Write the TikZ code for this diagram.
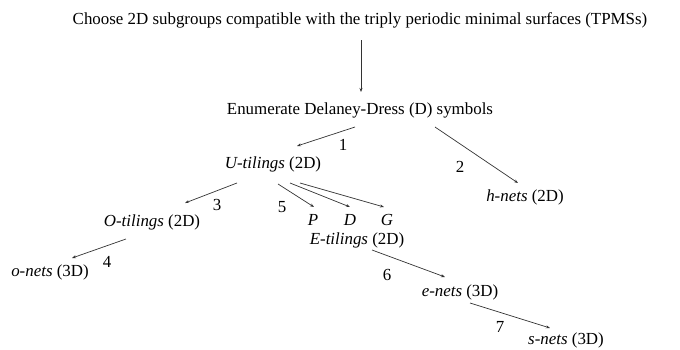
\documentclass[tikz,border=0pt]{standalone}
\usepackage{fontspec}
\setmainfont{Liberation Serif}
\usetikzlibrary{arrows.meta,calc}
\tikzset{
	txt/.style={inner sep=0pt, font=\fontsize{16.9}{18}\selectfont},
	num/.style={inner sep=0pt, font=\fontsize{16.9}{18}\selectfont},
	fl/.style={draw=black!80, line width=0.7pt, -{Stealth[length=4pt,width=3pt]}}
}
\begin{document}
\begin{tikzpicture}[x=1pt, y=-1pt]
	\useasboundingbox (0,0) rectangle (680,349);
	% les noeuds
	\node[txt] (tpms) at (360,20) {Choose 2D subgroups compatible with the triply periodic minimal surfaces (TPMSs)};
	\node[txt] (ds) at (360,110) {Enumerate Delaney-Dress (D) symbols};
	\node[txt] (utl) at (273,164) {\emph{U-tilings} (2D)};
	\node[txt] (hnt) at (525,197) {\emph{h-nets} (2D)};
	\node[txt] (otl) at (152,222) {\emph{O-tilings} (2D)};
	\node[txt] (P) at (313,220) {\emph{P}};
	\node[txt] (D) at (350,220) {\emph{D}};
	\node[txt] (G) at (387,220) {\emph{G}};
	\node[txt] (etl) at (357,240) {\emph{E-tilings} (2D)};
	\node[txt] (ont) at (50,272) {\emph{o-nets} (3D)};
	\node[txt] (ent) at (460,292) {\emph{e-nets} (3D)};
	\node[txt] (snt) at (566,340) {\emph{s-nets} (3D)};
	% les fleches
	\draw[fl] ($(tpms)+(1,20)$) -- ($(ds)+(1,-18)$);
	\draw[fl] ($(ds)+(-5,17)$) -- ($(utl)+(24,-18)$);
	\draw[fl] ($(ds)+(75,17)$) -- ($(hnt)+(-7,-14)$);
	\draw[fl] ($(utl)+(-36,19)$) -- ($(otl)+(33,-19)$);
	\draw[fl] ($(utl)+(5,20)$) -- ($(P)+(1,-13)$);
	\draw[fl] ($(utl)+(17,19)$) -- ($(D)+(0,-13)$);
	\draw[fl] ($(utl)+(27,19)$) -- ($(G)+(-3,-13)$);
	\draw[fl] ($(otl)+(-26,17)$) -- ($(ont)+(22,-14)$);
	\draw[fl] ($(etl)+(15,10)$) -- ($(ent)+(-15,-15)$);
	\draw[fl] ($(ent)+(10,11)$) -- ($(snt)+(-16,-12)$);
	% les numeros
	\node[num] (n1) at (343,145) {1};
	\node[num] (n2) at (460,167) {2};
	\node[num] (n3) at (217,205) {3};
	\node[num] (n4) at (107,262) {4};
	\node[num] (n5) at (282,207) {5};
	\node[num] (n6) at (387,275) {6};
	\node[num] (n7) at (500,327) {7};
\end{tikzpicture}
\end{document}
